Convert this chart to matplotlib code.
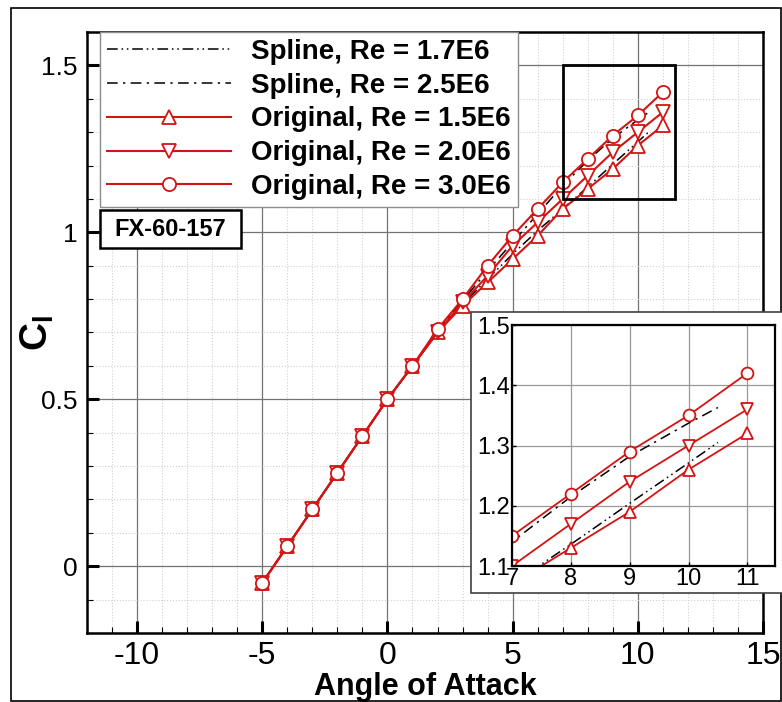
import matplotlib
matplotlib.use("Agg")
import matplotlib.pyplot as plt
from matplotlib.patches import Rectangle
from matplotlib.ticker import MultipleLocator, FixedLocator

plt.rcParams["font.family"] = ["Liberation Sans", "DejaVu Sans"]
plt.rcParams["mathtext.fontset"] = "custom"
plt.rcParams["mathtext.rm"] = "Liberation Sans:bold"
plt.rcParams["mathtext.bf"] = "Liberation Sans:bold"
plt.rcParams["mathtext.it"] = "Liberation Sans:bold"

# Angle of attack for the measured (original) polars
alpha = [-5, -4, -3, -2, -1, 0, 1, 2, 3, 4, 5, 6, 7, 8, 9, 10, 11]
cl_re15 = [-0.05, 0.06, 0.17, 0.28, 0.39, 0.50, 0.60, 0.70, 0.78, 0.85,
           0.92, 0.99, 1.07, 1.13, 1.19, 1.26, 1.32]
cl_re20 = [-0.05, 0.06, 0.17, 0.28, 0.39, 0.50, 0.60, 0.70, 0.79, 0.87,
           0.96, 1.03, 1.10, 1.17, 1.24, 1.30, 1.36]
cl_re30 = [-0.05, 0.06, 0.17, 0.28, 0.39, 0.50, 0.60, 0.71, 0.80, 0.90,
           0.99, 1.07, 1.15, 1.22, 1.29, 1.35, 1.42]

# Spline-interpolated polars
alpha_spline = [-5, -4, -3, -2, -1, 0, 1, 2, 3, 4, 5, 6, 7, 8, 9, 10, 10.5]
cl_spline17 = [-0.05, 0.06, 0.17, 0.28, 0.39, 0.50, 0.60, 0.70, 0.785, 0.86,
               0.935, 1.005, 1.07, 1.136, 1.204, 1.271, 1.305]
cl_spline25 = [-0.05, 0.06, 0.17, 0.28, 0.39, 0.50, 0.60, 0.705, 0.795, 0.885,
               0.97, 1.055, 1.14, 1.215, 1.282, 1.337, 1.363]

labels = ["Spline, Re = 1.7E6", "Spline, Re = 2.5E6",
          "Original, Re = 1.5E6", "Original, Re = 2.0E6", "Original, Re = 3.0E6"]
airfoil = "FX-60-157"
x_ticks = [-10, -5, 0, 5, 10, 15]
y_ticks = [0, 0.5, 1, 1.5]
inset_xticks = [7, 8, 9, 10, 11]
inset_yticks = [1.1, 1.2, 1.3, 1.4, 1.5]

RED = "#d41414"
DASH_DOT_DOT = (0, (7, 2.5, 1, 2.5, 1, 2.5))
DASH_DOT = (0, (7, 3.5, 1.5, 3.5))


def draw_series(ax, ms, lw_red):
    ax.plot(alpha_spline, cl_spline17, color="black", lw=1.1,
            linestyle=DASH_DOT_DOT, label=labels[0])
    ax.plot(alpha_spline, cl_spline25, color="black", lw=1.1,
            linestyle=DASH_DOT, label=labels[1])
    ax.plot(alpha, cl_re15, color=RED, lw=lw_red, marker="^", ms=ms,
            mfc="white", mec=RED, mew=1.3, label=labels[2])
    ax.plot(alpha, cl_re20, color=RED, lw=lw_red, marker="v", ms=ms,
            mfc="white", mec=RED, mew=1.3, label=labels[3])
    ax.plot(alpha, cl_re30, color=RED, lw=lw_red, marker="o", ms=ms,
            mfc="white", mec=RED, mew=1.3, label=labels[4])


fig = plt.figure(figsize=(7.82, 7.02), dpi=100)

# Outer frame around the whole figure
fig.patches.append(Rectangle((11 / 782, 1 / 702), 770 / 782, 693 / 702,
                             transform=fig.transFigure, fill=False,
                             ec="black", lw=1.2))

ax = fig.add_axes([87 / 782, 1 - 633 / 702, 676 / 782, 601 / 702])
draw_series(ax, ms=9.5, lw_red=1.5)

ax.set_xlim(-12, 15)
ax.set_ylim(-0.2, 1.6)
ax.xaxis.set_major_locator(FixedLocator(x_ticks))
ax.yaxis.set_major_locator(FixedLocator(y_ticks))
ax.xaxis.set_minor_locator(MultipleLocator(1))
ax.yaxis.set_minor_locator(MultipleLocator(0.1))
ax.set_xticklabels([f"{t:g}" for t in x_ticks], fontsize=23)
ax.set_yticklabels([f"{t:g}" for t in y_ticks], fontsize=19)
ax.tick_params(which="major", direction="in", length=8.5, width=2.2, pad=6)
ax.tick_params(which="minor", direction="in", length=4, width=0.8)
ax.tick_params(axis="y", which="major", pad=7)
for s in ax.spines.values():
    s.set_linewidth(1.8)
ax.grid(which="major", color="0.45", lw=0.9, ls="-")
ax.grid(which="minor", color="0.82", lw=0.8, ls=":")
ax.set_axisbelow(True)

ax.set_xlabel("Angle of Attack", fontsize=22, fontweight="bold", labelpad=0.5)
ax.set_ylabel(r"$\mathbf{C_l}$", fontsize=28)
ax.yaxis.set_label_coords(-0.046, 0.5)

# Zoom window that the inset enlarges
ax.add_patch(Rectangle((7, 1.1), 4.47, 0.4, fill=False, ec="black",
                       lw=2, zorder=6))

leg = ax.legend(loc="upper left", bbox_to_anchor=(13 / 676, 1.0),
                borderaxespad=0, prop={"weight": "bold", "size": 20},
                handlelength=4.45, handletextpad=0.75, labelspacing=0.28,
                borderpad=0.25, numpoints=1, fancybox=False, framealpha=1,
                edgecolor="0.55")
leg.get_frame().set_linewidth(1.0)
leg.set_zorder(10)

# Airfoil name box
ax.add_patch(Rectangle((13 / 676, (633 - 248) / 601), 141 / 676, 38 / 601,
                       transform=ax.transAxes, fc="white", ec="black",
                       lw=1.8, zorder=11))
ax.text((13 + 70.5) / 676, (633 - 229) / 601, airfoil, transform=ax.transAxes,
        ha="center", va="center", fontsize=17, fontweight="bold", zorder=12)

# Inset background panel
fig.patches.append(Rectangle((471 / 782, 1 - 593 / 702), 320 / 782, 281 / 702,
                             transform=fig.transFigure, fc="white",
                             ec="0.25", lw=1.2, zorder=5))

axin = fig.add_axes([512 / 782, 1 - 566 / 702, 263 / 782, 241 / 702], zorder=6)
draw_series(axin, ms=8.5, lw_red=1.3)
axin.set_xlim(7, 11.47)
axin.set_ylim(1.1, 1.5)
axin.xaxis.set_major_locator(FixedLocator(inset_xticks))
axin.yaxis.set_major_locator(FixedLocator(inset_yticks))
axin.set_xticklabels([f"{t:g}" for t in inset_xticks], fontsize=17)
axin.set_yticklabels([f"{t:g}" for t in inset_yticks], fontsize=17)
axin.tick_params(direction="in", length=3, width=1, pad=1.5)
for s in axin.spines.values():
    s.set_linewidth(1.6)
axin.grid(which="major", color="0.6", lw=0.9, ls="-")
axin.set_axisbelow(True)

fig.savefig("out.png", dpi=100)
